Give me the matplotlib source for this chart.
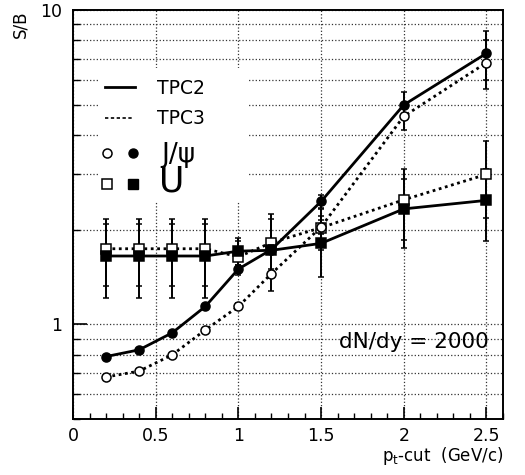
import matplotlib
matplotlib.use("Agg")
import matplotlib.pyplot as plt
from matplotlib.ticker import MultipleLocator, NullFormatter, FixedLocator
from matplotlib.patches import Rectangle
from matplotlib.lines import Line2D

# values
pt = [0.2, 0.4, 0.6, 0.8, 1.0, 1.2, 1.5, 2.0, 2.5]
jpsi_tpc2 = [0.79, 0.83, 0.94, 1.14, 1.50, 1.73, 2.46, 4.99, 7.28]
jpsi_tpc3 = [0.68, 0.71, 0.80, 0.96, 1.14, 1.45, 2.04, 4.59, 6.80]
ups_tpc2 = [1.65, 1.65, 1.65, 1.65, 1.71, 1.72, 1.81, 2.33, 2.48]
ups_tpc3 = [1.74, 1.74, 1.74, 1.74, 1.64, 1.82, 2.03, 2.49, 3.00]

jpsi_tpc2_err = [0, 0, 0, 0, 0.04, 0.06, 0.12, 0.50, 1.28]
jpsi_tpc3_err = [0, 0, 0, 0, 0.03, 0.05, 0.10, 0.45, 1.20]
ups_tpc2_err = [0.44, 0.44, 0.44, 0.44, 0.17, 0.44, 0.40, 0.58, 0.64]
ups_tpc3_err = [0.42, 0.42, 0.42, 0.42, 0.20, 0.42, 0.30, 0.63, 0.82]

xticks = [0, 0.5, 1, 1.5, 2, 2.5]
xticklabels = ["0", "0.5", "1", "1.5", "2", "2.5"]

plt.rcParams['font.family'] = ['DejaVu Sans']

fig = plt.figure(figsize=(5.25, 4.75), dpi=100)
ax = fig.add_axes([73/525, 1-419/475, 430/525, 409/475])

dotted = (0, (1.0, 1.3))
ebkw = dict(ecolor='black', elinewidth=1.4, capsize=2.5, capthick=1.4,
            color='black', lw=2, markeredgecolor='black', markeredgewidth=1.1)

ax.errorbar(pt, ups_tpc3, yerr=ups_tpc3_err, fmt='s', ls=dotted, ms=6.5,
            markerfacecolor='white', zorder=3, **ebkw)
ax.errorbar(pt, ups_tpc2, yerr=ups_tpc2_err, fmt='s', ls='-', ms=6.5,
            markerfacecolor='black', zorder=3, **ebkw)
ax.errorbar(pt, jpsi_tpc3, yerr=jpsi_tpc3_err, fmt='o', ls=dotted, ms=6.5,
            markerfacecolor='white', zorder=4, **ebkw)
ax.errorbar(pt, jpsi_tpc2, yerr=jpsi_tpc2_err, fmt='o', ls='-', ms=6.5,
            markerfacecolor='black', zorder=4, **ebkw)

ax.set_xlim(0, 2.6)
ax.set_yscale('log')
ax.set_ylim(0.5, 10)

ax.xaxis.set_major_locator(FixedLocator(xticks))
ax.set_xticklabels(xticklabels)
ax.xaxis.set_minor_locator(MultipleLocator(0.1))
ax.yaxis.set_major_locator(FixedLocator([1, 10]))
ax.set_yticklabels(["1", "10"])
ax.yaxis.set_minor_formatter(NullFormatter())

ax.tick_params(axis='x', which='major', direction='in', length=9, width=1.2,
               labelsize=12.5, pad=6, top=False)
ax.tick_params(axis='x', which='minor', direction='in', length=4.5, width=1.0, top=False)
ax.tick_params(axis='y', which='major', direction='in', length=10, width=1.2,
               labelsize=12.5, pad=8, right=False)
ax.tick_params(axis='y', which='minor', direction='in', length=5, width=1.0, right=False)

ax.set_axisbelow(True)
ax.grid(True, which='major', axis='x', ls=':', lw=0.9, color='#333333')
ax.grid(True, which='both', axis='y', ls=':', lw=0.9, color='#333333')
for s in ax.spines.values():
    s.set_linewidth(1.4)

# white legend box covering the grid
ax.add_patch(Rectangle((0.063, 0.53), 0.347, 0.328, transform=ax.transAxes,
                       facecolor='white', edgecolor='none', zorder=1.5))

def px(x, y):
    # figure pixel -> figure fraction
    return x/525, 1 - y/475

tr = fig.transFigure
fig.add_artist(Line2D([105/525, 135/525], [px(0, 87)[1]]*2, color='black', lw=2, transform=tr))
fig.add_artist(Line2D([105/525, 133/525], [px(0, 118)[1]]*2, color='black', lw=1.2,
                      ls=(0, (2, 1.5)), transform=tr))
fig.text(*px(157, 88), "TPC2", fontsize=13.5, va='center', ha='left')
fig.text(*px(157, 119), "TPC3", fontsize=13.5, va='center', ha='left')

fig.add_artist(Line2D([107/525], [px(0, 153)[1]], marker='o', ms=6.5, mfc='white',
                      mec='black', mew=1.1, transform=tr))
fig.add_artist(Line2D([133/525], [px(0, 153)[1]], marker='o', ms=6.5, mfc='black',
                      mec='black', transform=tr))
fig.add_artist(Line2D([107/525], [px(0, 184)[1]], marker='s', ms=6.5, mfc='white',
                      mec='black', mew=1.1, transform=tr))
fig.add_artist(Line2D([133/525], [px(0, 184)[1]], marker='s', ms=6.5, mfc='black',
                      mec='black', transform=tr))
fig.text(*px(161, 155), "J/\u03c8", fontsize=19, va='center', ha='left')
fig.text(*px(159, 182), "U", fontsize=25, va='center', ha='left')

fig.text(*px(339, 342), "dN/dy = 2000", fontsize=15.5, va='center', ha='left')

fig.text(*px(20, 10), "S/B", fontsize=12, rotation=90, va='top', ha='center')
fig.text(*px(503, 456), r"p$_\mathregular{t}$-cut  (GeV/c)", fontsize=12,
         va='center', ha='right')

fig.savefig("out.png", dpi=100)
